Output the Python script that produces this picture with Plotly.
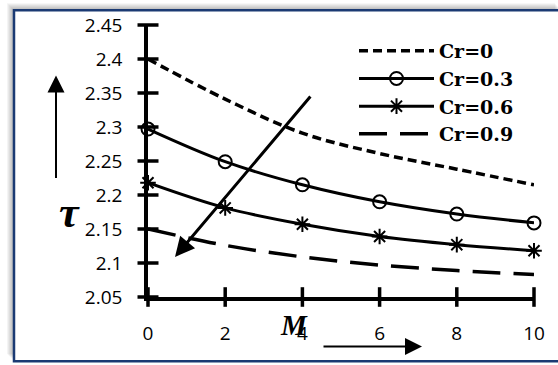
import plotly.graph_objects as go

# ---- data ----
M_values = [0, 2, 4, 6, 8, 10]
cr0 = [2.400, 2.341, 2.291, 2.261, 2.238, 2.215]
cr03 = [2.297, 2.249, 2.215, 2.190, 2.172, 2.159]
cr06 = [2.218, 2.181, 2.157, 2.139, 2.127, 2.118]
cr09 = [2.150, 2.126, 2.109, 2.097, 2.089, 2.083]
series_names = ["Cr=0", "Cr=0.3", "Cr=0.6", "Cr=0.9"]
y_ticks = [2.05, 2.10, 2.15, 2.20, 2.25, 2.30, 2.35, 2.40, 2.45]
y_tick_labels = ["2.05", "2.1", "2.15", "2.2", "2.25", "2.3", "2.35", "2.4", "2.45"]
x_ticks = [0, 2, 4, 6, 8, 10]
x_tick_labels = ["0", "2", "4", "6", "8", "10"]
# diagonal trend arrow (data coordinates): tail -> head
arrow_tail = (4.24, 2.347)
arrow_head = (0.70, 2.109)

W, H = 558, 365
L, R, T, B = 148, 24, 22, 68
PW, PH = W - L - R, H - T - B


def px(xp):
    return (xp - L) / PW


def py(yp):
    return (H - B - yp) / PH


fig = go.Figure()

fig.add_trace(go.Scatter(
    x=M_values, y=cr0, name=series_names[0], mode="lines",
    line=dict(color="black", width=3.5, dash="9px,5px", shape="spline"),
    cliponaxis=False))
fig.add_trace(go.Scatter(
    x=M_values, y=cr03, name=series_names[1], mode="lines+markers",
    line=dict(color="black", width=3, shape="spline"),
    marker=dict(symbol="circle-open", size=13, color="black", line=dict(width=2, color="black")),
    cliponaxis=False))
fig.add_trace(go.Scatter(
    x=M_values, y=cr06, name=series_names[2], mode="lines+markers",
    line=dict(color="black", width=3, shape="spline"),
    marker=dict(symbol="asterisk-open", size=13, color="black", line=dict(width=2, color="black")),
    cliponaxis=False))
fig.add_trace(go.Scatter(
    x=M_values, y=cr09, name=series_names[3], mode="lines",
    line=dict(color="black", width=3.5, dash="28px,13px", shape="spline"),
    cliponaxis=False))

# crossing tick marks
fig.add_trace(go.Scatter(
    x=[0] * len(y_ticks), y=y_ticks, mode="markers", showlegend=False, hoverinfo="skip",
    marker=dict(symbol="line-ew", size=15, line=dict(width=3.5, color="black")),
    cliponaxis=False))
fig.add_trace(go.Scatter(
    x=x_ticks, y=[y_ticks[0]] * len(x_ticks), mode="markers", showlegend=False, hoverinfo="skip",
    marker=dict(symbol="line-ns", size=14, line=dict(width=3.5, color="black")),
    cliponaxis=False))

# frame with soft shadow
shapes = []
fx0, fx1, fy0, fy1 = 14, 562, 7, 362
for k in range(7, 0, -1):
    shapes.append(dict(type="rect", xref="paper", yref="paper",
                       x0=px(fx0 - k), x1=px(fx1 - k), y0=py(fy1 - k), y1=py(fy0 - k),
                       fillcolor="rgba(0,0,0,0.045)", line=dict(width=0), layer="below"))
shapes.append(dict(type="rect", xref="paper", yref="paper",
                   x0=px(fx0), x1=px(fx1), y0=py(fy1), y1=py(fy0),
                   fillcolor="white", line=dict(color="#1B3A73", width=2.5), layer="below"))

annotations = [
    dict(x=arrow_head[0], y=arrow_head[1], ax=arrow_tail[0], ay=arrow_tail[1],
         xref="x", yref="y", axref="x", ayref="y", text="", showarrow=True,
         arrowhead=2, arrowsize=1.3, arrowwidth=3, arrowcolor="black"),
    dict(x=px(56), y=py(73), xref="paper", yref="paper", ax=0, ay=104, text="",
         showarrow=True, arrowhead=2, arrowsize=1.7, arrowwidth=2, arrowcolor="black"),
    dict(x=px(422), y=py(347), xref="paper", yref="paper", ax=-100, ay=0, text="",
         showarrow=True, arrowhead=2, arrowsize=1.7, arrowwidth=2, arrowcolor="black"),
    dict(x=px(294), y=py(344), xref="paper", yref="paper", text="<b><i>M</i></b>",
         showarrow=False, font=dict(family="Liberation Serif", size=29, color="black")),
    dict(x=px(57), y=py(238), xref="paper", yref="paper", text="<b><i>τ</i></b>",
         showarrow=False, font=dict(family="Liberation Serif", size=44, color="black")),
]

fig.update_layout(
    width=W, height=H,
    margin=dict(l=L, r=R, t=T, b=B),
    paper_bgcolor="white", plot_bgcolor="white",
    shapes=shapes, annotations=annotations,
    showlegend=True,
    legend=dict(x=px(354), y=py(29), xanchor="left", yanchor="top",
                bgcolor="rgba(0,0,0,0)", borderwidth=0,
                font=dict(family="DejaVu Serif", size=19, color="black", weight="bold"),
                tracegroupgap=0, itemwidth=75),
    xaxis=dict(range=[0, 10], tickvals=x_ticks, ticktext=x_tick_labels,
               showgrid=False, zeroline=False, showline=True, linecolor="black",
               linewidth=3.5, ticks="", ticklabelstandoff=16,
               tickfont=dict(family="Open Sans", size=19, color="black")),
    yaxis=dict(range=[2.05, 2.45], tickvals=y_ticks, ticktext=y_tick_labels,
               showgrid=False, zeroline=False, showline=True, linecolor="black",
               linewidth=3.5, ticks="", ticklabelstandoff=18,
               tickfont=dict(family="Open Sans", size=19, color="black")),
)

fig.write_html("out.html")
